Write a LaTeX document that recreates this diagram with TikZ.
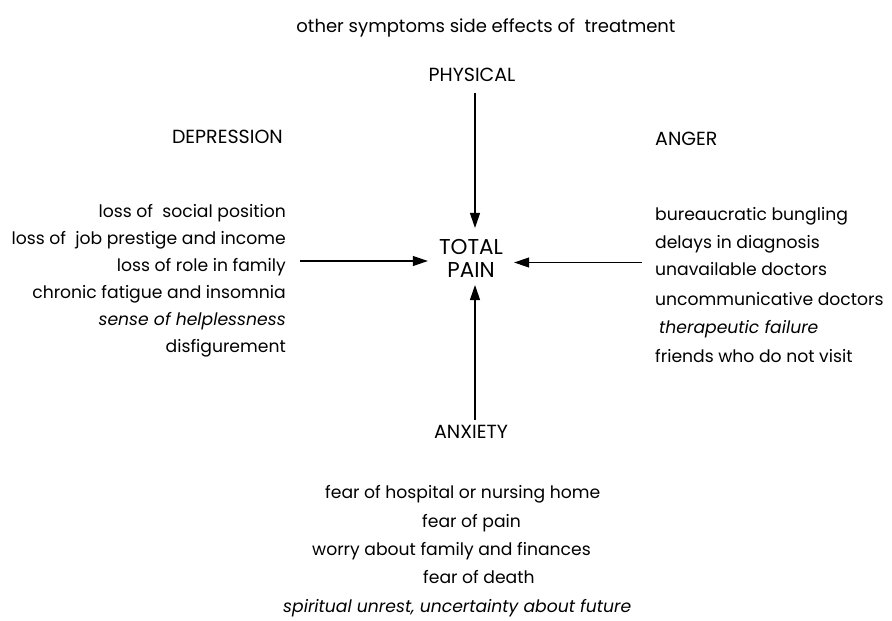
\documentclass[tikz,border=0pt]{standalone}
\usepackage{fontspec}
\setmainfont{Poppins}
\usetikzlibrary{arrows.meta}
\begin{document}
\begin{tikzpicture}[x=1pt,y=-1pt,
  lbl/.style={inner sep=0pt, font=\fontsize{17.2}{21}\selectfont, text=black},
  caplbl/.style={inner sep=0pt, font=\fontsize{19}{22}\selectfont, text=black},
  arr/.style={line width=1.1pt, -{Triangle[length=15pt,width=10pt]}}]
\useasboundingbox (0,0) rectangle (892,621);
\node[lbl, anchor=base, font=\fontsize{18}{22}\selectfont] (top) at (486,32) {other symptoms side effects of\ \ treatment};
\node[caplbl, anchor=base] (phys) at (472,81) {PHYSICAL};
\node[caplbl, anchor=base east] (dep) at (283,143) {DEPRESSION};
\node[caplbl, anchor=base west] (ang) at (655,145) {ANGER};
\node[inner sep=0pt, align=center, font=\fontsize{21.5}{23.5}\selectfont] (tp) at (471,258.5) {TOTAL\\PAIN};
\node[lbl, anchor=base east] (l1) at (286,217) {loss of\ \ social position};
\node[lbl, anchor=base east] (l2) at (286,244) {loss of\ \ job prestige and income};
\node[lbl, anchor=base east] (l3) at (286,271) {loss of role in family};
\node[lbl, anchor=base east] (l4) at (286,298) {chronic fatigue and insomnia};
\node[lbl, anchor=base east] (l5) at (286,325) {\itshape sense of helplessness};
\node[lbl, anchor=base east] (l6) at (286,352) {disfigurement};
\node[lbl, anchor=base west] (r1) at (655,220) {bureaucratic bungling};
\node[lbl, anchor=base west] (r2) at (655,248) {delays in diagnosis};
\node[lbl, anchor=base west] (r3) at (655,275) {unavailable doctors};
\node[lbl, anchor=base west] (r4) at (655,305) {uncommunicative doctors};
\node[lbl, anchor=base west] (r5) at (659,333) {\itshape therapeutic failure};
\node[lbl, anchor=base west] (r6) at (655,362) {friends who do not visit};
\node[caplbl, anchor=base] (anx) at (471,438) {ANXIETY};
\node[lbl, anchor=base west] (b1) at (325,498) {fear of hospital or nursing home};
\node[lbl, anchor=base west] (b2) at (422,527) {fear of pain};
\node[lbl, anchor=base west] (b3) at (312,555) {worry about family and finances};
\node[lbl, anchor=base west] (b4) at (423,583) {fear of death};
\node[lbl, anchor=base west] (b5) at (283,612) {\itshape spiritual unrest, uncertainty about future};
\coordinate (tpw) at ([yshift=-2.5pt]tp.west);
\coordinate (tpe) at ([yshift=-4pt]tp.east);
\coordinate (tpn) at ([xshift=4pt]tp.north);
\coordinate (tps) at ([xshift=4pt]tp.south);
\draw[arr, shorten <=12pt, shorten >=11pt] (phys.south -| tpn) -- (tpn);
\draw[arr, shorten <=14pt, shorten >=11pt] (l3.east |- tpw) -- (tpw);
\draw[arr, shorten <=13pt, shorten >=11pt] (r3.west |- tpe) -- (tpe);
\draw[arr, shorten <=5pt, shorten >=7pt] (anx.north -| tps) -- (tps);
\end{tikzpicture}
\end{document}
